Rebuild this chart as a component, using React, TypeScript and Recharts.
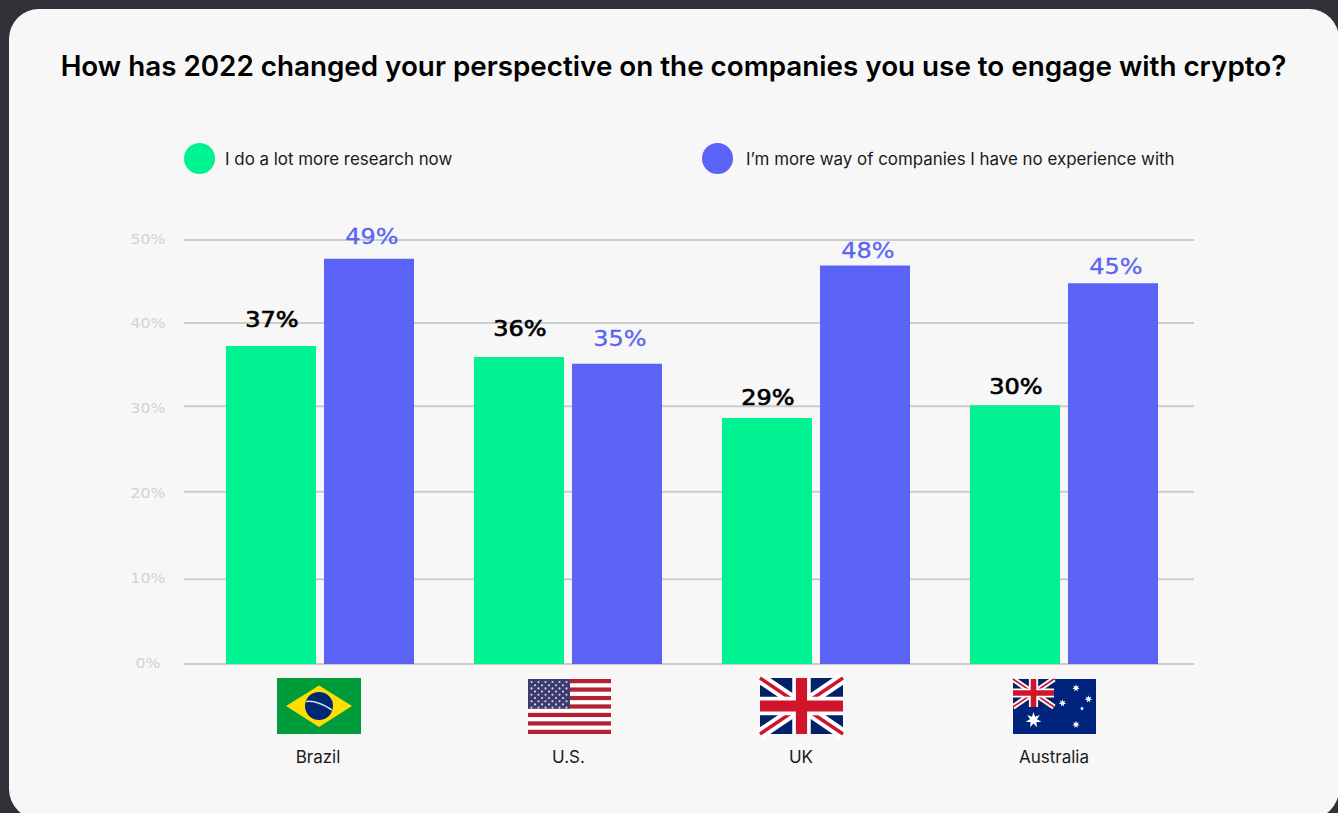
import React from "react";
import { BarChart, Bar, XAxis, YAxis, CartesianGrid, Legend, LabelList } from "recharts";

const countries = ["Brazil", "U.S.", "UK", "Australia"];
const research = [37.5, 36.2, 29.0, 30.5];
const wary = [47.8, 35.4, 47.0, 44.9];
const researchLabels = ["37%", "36%", "29%", "30%"];
const waryLabels = ["49%", "35%", "48%", "45%"];
const yTicks = [0, 10, 20, 30, 40, 50];
const gridLevels = [0, 10, 20.3, 30.4, 40.2, 50];
const titleText = "How has 2022 changed your perspective on the companies you use to engage with crypto?";
const researchName = "I do a lot more research now";
const waryName = "I’m more way of companies I have no experience with";

const GREEN = "#00F291";
const BLUE = "#5A63F5";
const FONT = "Inter, 'Noto Sans', sans-serif";
const LABEL_FONT = "'DejaVu Sans', sans-serif";

const researchLift = [19, 21, 13, 11];
const waryLift = [15, 18, 7, 9];

const rows = countries.map((country, i) => ({
  country,
  research: research[i],
  wary: wary[i],
  researchLabel: researchLabels[i],
  waryLabel: waryLabels[i],
}));

const star = (cx: number, cy: number, r: number, n = 7) => {
  const pts: string[] = [];
  for (let i = 0; i < n * 2; i++) {
    const rad = i % 2 ? r * 0.45 : r;
    const a = (Math.PI * i) / n - Math.PI / 2;
    pts.push(`${cx + rad * Math.cos(a)},${cy + rad * Math.sin(a)}`);
  }
  return <polygon key={`${cx}-${cy}`} points={pts.join(" ")} fill="#fff" />;
};

const Brazil = () => (
  <g>
    <rect width={84} height={56} fill="#009B3A" />
    <polygon points="9,28 42,7.5 75,28 42,49" fill="#FEDF00" />
    <circle cx={42} cy={28} r={14} fill="#002776" />
    <path d="M29 23.5 Q40 22 55 32" stroke="#cfe3d8" strokeWidth={1.6} fill="none" />
  </g>
);

const USA = () => {
  const stripeH = 55 / 13;
  const stars: React.ReactNode[] = [];
  for (let r = 0; r < 9; r++) {
    const n = r % 2 ? 5 : 6;
    for (let c = 0; c < n; c++) {
      stars.push(<circle key={`${r}-${c}`} cx={3.5 + (r % 2 ? 3.5 : 0) + c * 7} cy={3 + r * 3.2} r={1.05} fill="#d9d9e6" />);
    }
  }
  return (
    <g>
      <rect width={83} height={55} fill="#fff" />
      {Array.from({ length: 7 }, (_, i) => (
        <rect key={i} y={i * 2 * stripeH} width={83} height={stripeH} fill="#B22234" />
      ))}
      <rect width={42} height={stripeH * 7} fill="#3C3B6E" />
      {stars}
    </g>
  );
};

const Jack = ({ w, h }: { w: number; h: number }) => (
  <g>
    <rect width={w} height={h} fill="#012169" />
    <path d={`M0 0L${w} ${h}M${w} 0L0 ${h}`} stroke="#fff" strokeWidth={h * 0.2} />
    <path d={`M0 0L${w} ${h}M${w} 0L0 ${h}`} stroke="#CF142B" strokeWidth={h * 0.06} />
    <path d={`M${w / 2} 0V${h}M0 ${h / 2}H${w}`} stroke="#fff" strokeWidth={h * 0.33} />
    <path d={`M${w / 2} 0V${h}M0 ${h / 2}H${w}`} stroke="#CF142B" strokeWidth={h * 0.2} />
  </g>
);

const Australia = () => (
  <g>
    <rect width={83} height={55} fill="#00247D" />
    <Jack w={41} h={28} />
    {star(20.5, 41, 8)}
    {star(63, 9, 3.8)}
    {star(49.5, 24, 3.8)}
    {star(75.5, 20, 3.8)}
    {star(69, 29.5, 2.2, 5)}
    {star(63, 45.5, 3.8)}
  </g>
);

const flags: Record<string, { dx: number; top: number; labelDx: number; node: React.ReactNode }> = {
  Brazil: { dx: -43, top: 678, labelDx: -2, node: <Brazil /> },
  "U.S.": { dx: -40, top: 679, labelDx: 0.5, node: <USA /> },
  UK: { dx: -56, top: 678, labelDx: -15, node: <Jack w={83} h={56} /> },
  Australia: { dx: -51, top: 679, labelDx: -10, node: <Australia /> },
};

const CountryTick = (props: any) => {
  const { x, payload } = props;
  const f = flags[payload.value];
  return (
    <g>
      <g transform={`translate(${x + f.dx},${f.top})`}>{f.node}</g>
      <text x={x + f.labelDx} y={763} textAnchor="middle" fontFamily={FONT} fontSize={17} fill="#1a1a1a">
        {payload.value}
      </text>
    </g>
  );
};

const PercentTick = (props: any) => {
  const { x, y, payload } = props;
  return (
    <text
      transform={`translate(${x - 36},${y + 3.5}) scale(1.12,1)`}
      textAnchor="middle"
      fontFamily={LABEL_FONT}
      fontSize={14}
      fill="#D2D2D2"
    >
      {payload.value}%
    </text>
  );
};

const makeBarLabel = (lifts: number[], dx: number, color: string, heft: number) => (props: any) => {
  const { x, y, width, value, index } = props;
  return (
    <text
      transform={`translate(${x + width / 2 + dx},${y - lifts[index]}) scale(1.09,1)`}
      textAnchor="middle"
      fontFamily={LABEL_FONT}
      fontSize={22}
      fill={color}
      stroke={color}
      strokeWidth={heft}
    >
      {value}
    </text>
  );
};

const LegendContent = () => {
  const items = [
    { name: researchName, color: GREEN, cx: 199, tx: 225 },
    { name: waryName, color: BLUE, cx: 717, tx: 746 },
  ];
  return (
    <div style={{ position: "relative", width: 1338, height: 32 }}>
      {items.map((it) => (
        <React.Fragment key={it.name}>
          <div style={{ position: "absolute", left: it.cx - 15.5, top: 0, width: 31, height: 31, borderRadius: "50%", background: it.color }} />
          <div style={{ position: "absolute", left: it.tx, top: 4, lineHeight: "24px", fontFamily: FONT, fontSize: 16.9, color: "#1a1a1a", whiteSpace: "nowrap" }}>
            {it.name}
          </div>
        </React.Fragment>
      ))}
    </div>
  );
};

export default function App() {
  return (
    <div style={{ position: "absolute", left: 0, top: 0, width: 1338, height: 813, overflow: "hidden", background: "#303136" }}>
      <div style={{ position: "absolute", left: 9, top: 9, width: 1330, height: 810, borderRadius: 30, background: "#F7F7F7" }} />
      <div style={{ position: "absolute", left: 0, top: 47, width: 1347, textAlign: "center", fontFamily: FONT, fontWeight: 600, fontSize: 27.8, lineHeight: "38px", color: "#000", whiteSpace: "nowrap" }}>
        {titleText}
      </div>
      <div style={{ position: "absolute", left: 0, top: 0 }}>
        <BarChart width={1338} height={813} data={rows} barSize={90} barGap={8} margin={{ top: 240, right: 144, bottom: 49, left: 134 }}>
          <CartesianGrid vertical={false} stroke="#CCCCCC" strokeWidth={2} horizontalValues={gridLevels} />
          <XAxis dataKey="country" axisLine={false} tickLine={false} height={100} padding={{ left: 12, right: 6 }} tick={<CountryTick />} interval={0} />
          <YAxis domain={[0, 50]} ticks={yTicks} axisLine={false} tickLine={false} tickSize={0} tickMargin={0} width={50} tick={<PercentTick />} />
          <Legend verticalAlign="middle" content={<LegendContent />} wrapperStyle={{ top: 143, left: 0, width: 1338 }} />
          <Bar dataKey="research" name={researchName} fill={GREEN} isAnimationActive={false}>
            <LabelList dataKey="researchLabel" content={makeBarLabel(researchLift, 1, "#000", 0.7)} />
          </Bar>
          <Bar dataKey="wary" name={waryName} fill={BLUE} isAnimationActive={false}>
            <LabelList dataKey="waryLabel" content={makeBarLabel(waryLift, 3, BLUE, 0.3)} />
          </Bar>
        </BarChart>
      </div>
    </div>
  );
}
